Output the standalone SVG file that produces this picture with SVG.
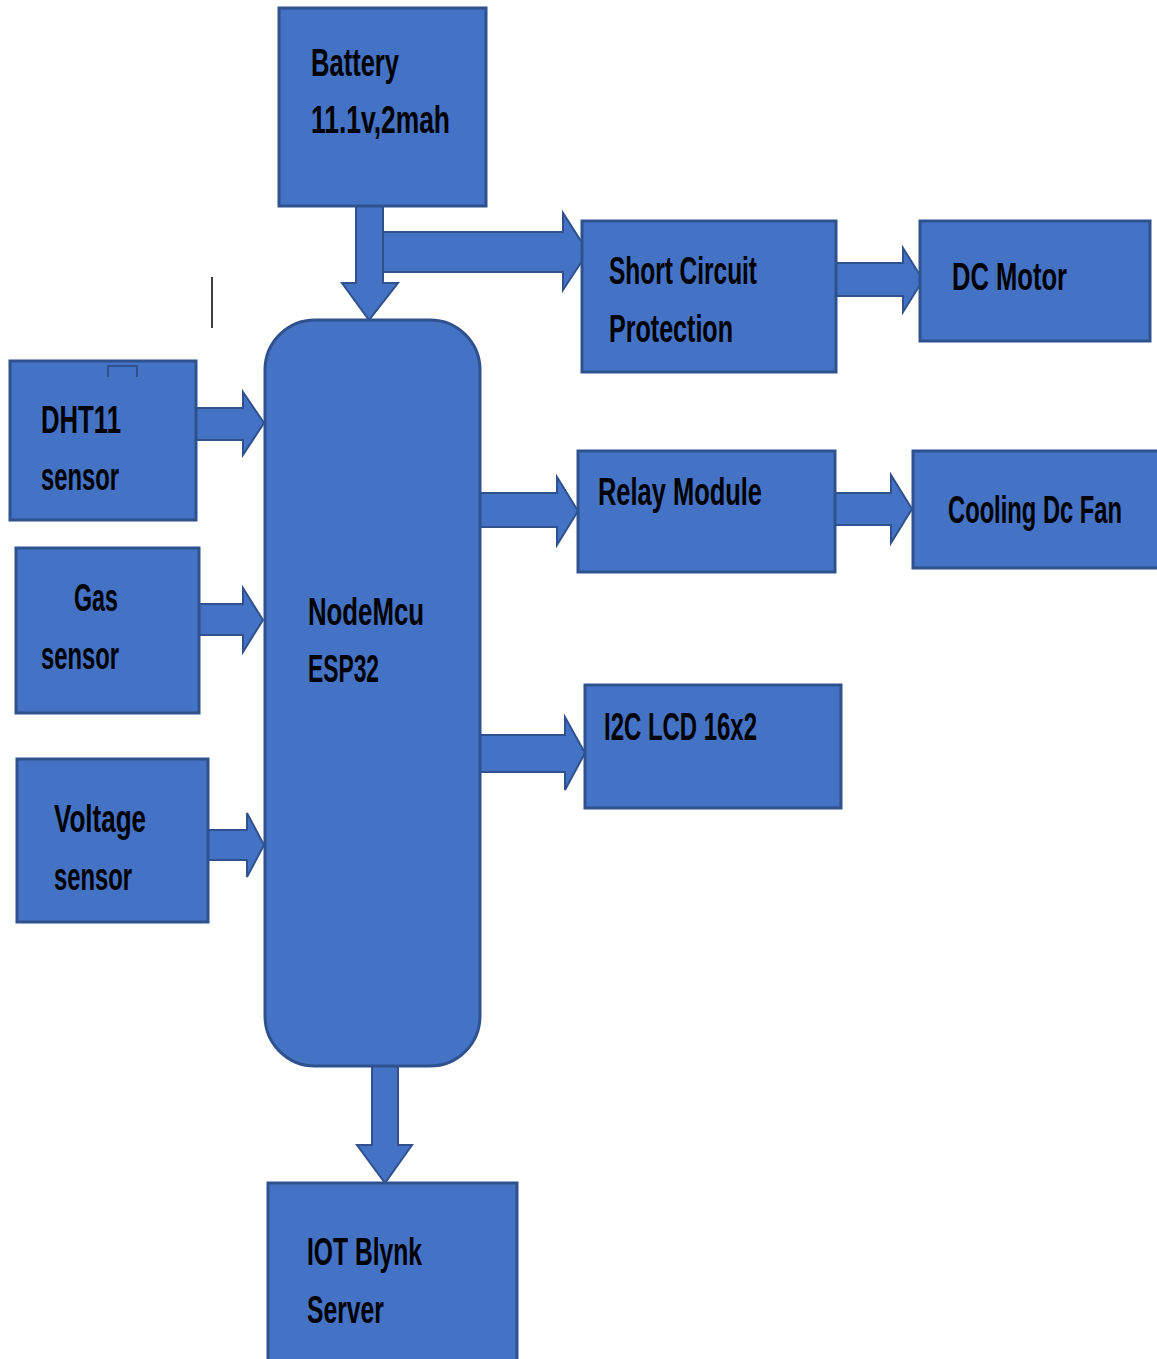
<svg xmlns="http://www.w3.org/2000/svg" width="1157" height="1359" viewBox="0 0 1157 1359">
<style>
.box{fill:#4472C4;stroke:#2F528F;stroke-width:3}
.arr{fill:#4472C4;stroke:#2F528F;stroke-width:2;stroke-linejoin:miter}
.t{font-family:"Liberation Sans",Arial,sans-serif;font-size:38px;font-weight:bold;fill:#000}
</style>
<rect width="1157" height="1359" fill="#fff"/>
<g id="connectors">
<polygon class="arr" points="356,202 383,202 383,283 398,283 369,320 342,283 356,283"/>
<polygon class="arr" points="383,232 563,232 563,213 588,252 563,290 563,272 383,272"/>
<polygon class="arr" points="836,263 903,263 903,248 923,280 903,312 903,296 836,296"/>
<polygon class="arr" points="196,408 243,408 243,392 264,423 243,455 243,440 196,440"/>
<polygon class="arr" points="199,604 243,604 243,588 263,620 243,652 243,635 199,635"/>
<polygon class="arr" points="208,830 247,830 247,813 264,845 247,877 247,860 208,860"/>
<polygon class="arr" points="480,493 557,493 557,477 578,511 557,545 557,527 480,527"/>
<polygon class="arr" points="835,493 891,493 891,475 912,509 891,543 891,525 835,525"/>
<polygon class="arr" points="480,735 565,735 565,717 585,753 565,790 565,772 480,772"/>
<polygon class="arr" points="372,1066 398,1066 398,1145 412,1145 385,1183 357,1145 372,1145"/>
</g>
<line x1="212" y1="277" x2="212" y2="328" stroke="#000" stroke-width="1.5"/>
<g id="battery">
<rect class="box" x="279" y="8" width="207" height="198"/>
<text class="t" x="311" y="76" textLength="88" lengthAdjust="spacingAndGlyphs">Battery</text>
<text class="t" x="311" y="133" textLength="139" lengthAdjust="spacingAndGlyphs">11.1v,2mah</text>
</g>
<g id="short-circuit">
<rect class="box" x="582" y="221" width="254" height="151"/>
<text class="t" x="609" y="284" textLength="148" lengthAdjust="spacingAndGlyphs">Short Circuit</text>
<text class="t" x="609" y="342" textLength="124" lengthAdjust="spacingAndGlyphs">Protection</text>
</g>
<g id="dc-motor">
<rect class="box" x="920" y="221" width="230" height="120"/>
<text class="t" x="952" y="290" textLength="115" lengthAdjust="spacingAndGlyphs">DC Motor</text>
</g>
<g id="nodemcu">
<rect class="box" x="265" y="320" width="215" height="746" rx="50" ry="50"/>
<text class="t" x="308" y="625" textLength="116" lengthAdjust="spacingAndGlyphs">NodeMcu</text>
<text class="t" x="308" y="682" textLength="71" lengthAdjust="spacingAndGlyphs">ESP32</text>
</g>
<g id="dht11">
<rect class="box" x="10" y="361" width="186" height="159"/>
<path d="M108,377 V366 H137 V377" fill="none" stroke="#2F528F" stroke-width="2"/>
<text class="t" x="41" y="433" textLength="80" lengthAdjust="spacingAndGlyphs">DHT11</text>
<text class="t" x="41" y="490" textLength="78" lengthAdjust="spacingAndGlyphs">sensor</text>
</g>
<g id="gas">
<rect class="box" x="16" y="548" width="183" height="165"/>
<text class="t" x="74" y="611" textLength="44" lengthAdjust="spacingAndGlyphs">Gas</text>
<text class="t" x="41" y="669" textLength="78" lengthAdjust="spacingAndGlyphs">sensor</text>
</g>
<g id="voltage">
<rect class="box" x="17" y="759" width="191" height="163"/>
<text class="t" x="54" y="832" textLength="92" lengthAdjust="spacingAndGlyphs">Voltage</text>
<text class="t" x="54" y="890" textLength="78" lengthAdjust="spacingAndGlyphs">sensor</text>
</g>
<g id="relay">
<rect class="box" x="578" y="451" width="257" height="121"/>
<text class="t" x="598" y="505" textLength="164" lengthAdjust="spacingAndGlyphs">Relay Module</text>
</g>
<g id="fan">
<rect class="box" x="913" y="451" width="246" height="117"/>
<text class="t" x="948" y="523" textLength="174" lengthAdjust="spacingAndGlyphs">Cooling Dc Fan</text>
</g>
<g id="lcd">
<rect class="box" x="585" y="685" width="256" height="123"/>
<text class="t" x="604" y="740" textLength="153" lengthAdjust="spacingAndGlyphs">I2C LCD 16x2</text>
</g>
<g id="blynk">
<rect class="box" x="268" y="1183" width="249" height="180"/>
<text class="t" x="307" y="1265" textLength="115" lengthAdjust="spacingAndGlyphs">IOT Blynk</text>
<text class="t" x="307" y="1323" textLength="77" lengthAdjust="spacingAndGlyphs">Server</text>
</g>
</svg>
